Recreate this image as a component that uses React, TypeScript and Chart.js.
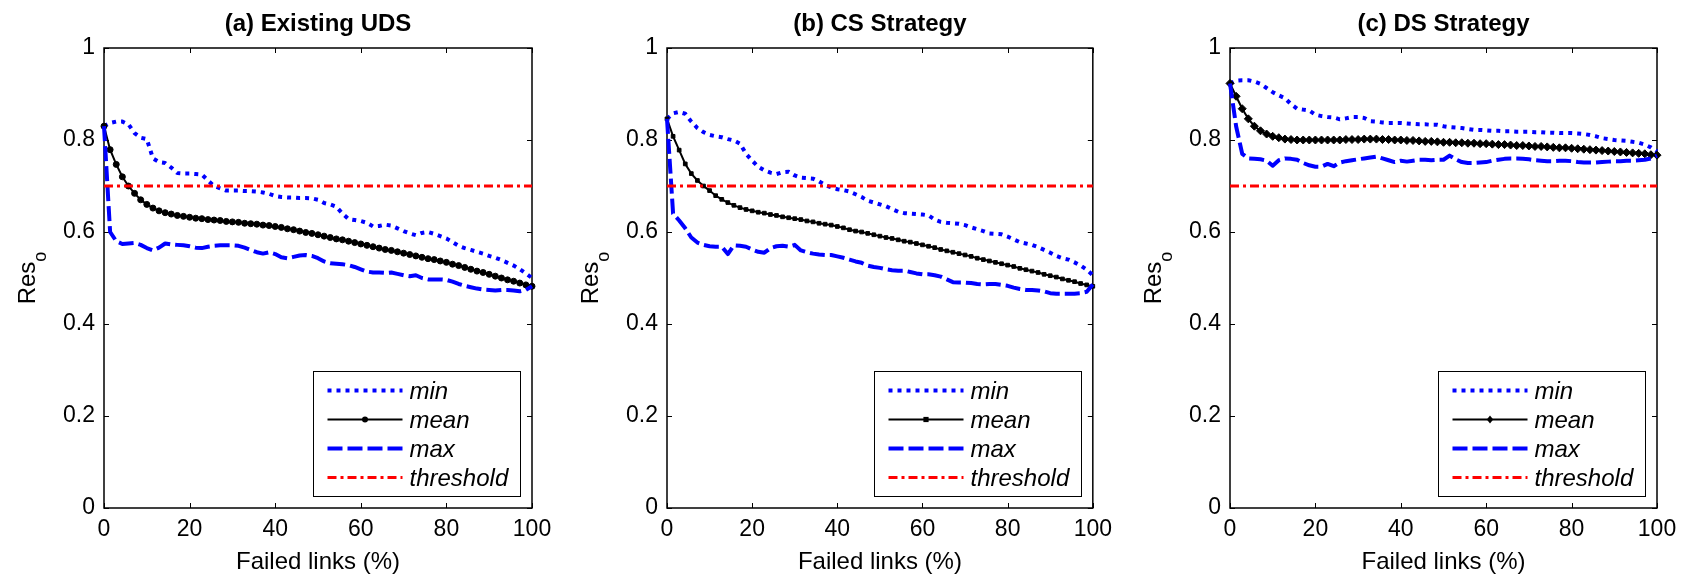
import React, { useEffect, useRef } from 'react';
import { Chart, registerables } from 'chart.js';

Chart.register(...registerables);

const FONT = '"Liberation Sans", Arial, Helvetica, sans-serif';

// x grid: failed links (%) – 71 steps
const FAILED_PCT = [0, 1.43, 2.86, 4.29, 5.71, 7.14, 8.57, 10, 11.43, 12.86, 14.29, 15.71, 17.14, 18.57, 20,
  21.43, 22.86, 24.29, 25.71, 27.14, 28.57, 30, 31.43, 32.86, 34.29, 35.71, 37.14, 38.57, 40,
  41.43, 42.86, 44.29, 45.71, 47.14, 48.57, 50, 51.43, 52.86, 54.29, 55.71, 57.14, 58.57, 60,
  61.43, 62.86, 64.29, 65.71, 67.14, 68.57, 70, 71.43, 72.86, 74.29, 75.71, 77.14, 78.57, 80,
  81.43, 82.86, 84.29, 85.71, 87.14, 88.57, 90, 91.43, 92.86, 94.29, 95.71, 97.14, 98.57, 100];

const X_TICKS = [0, 20, 40, 60, 80, 100];
const Y_TICKS = [0, 0.2, 0.4, 0.6, 0.8, 1];
const THRESHOLD = 0.7;

const TITLES = ['(a) Existing UDS', '(b) CS Strategy', '(c) DS Strategy'];
const LEGEND_LABELS = ['min', 'mean', 'max', 'threshold'];
const X_LABEL = 'Failed links (%)';
const Y_LABEL = 'Res';
const Y_LABEL_SUB = 'o';

// (a) Existing UDS
const UDS_MIN = [0.830, 0.837, 0.840, 0.840, 0.834, 0.815, 0.805, 0.802, 0.760, 0.752, 0.750, 0.740, 0.728, 0.727, 0.727,
  0.726, 0.725, 0.712, 0.700, 0.695, 0.690, 0.690, 0.690, 0.689, 0.689, 0.688, 0.686, 0.683, 0.678,
  0.676, 0.675, 0.675, 0.674, 0.674, 0.673, 0.670, 0.663, 0.660, 0.655, 0.640, 0.628, 0.626, 0.624,
  0.620, 0.612, 0.613, 0.616, 0.614, 0.608, 0.602, 0.597, 0.593, 0.598, 0.600, 0.596, 0.591, 0.586,
  0.578, 0.570, 0.565, 0.561, 0.557, 0.553, 0.548, 0.544, 0.539, 0.533, 0.527, 0.519, 0.510, 0.500];
const UDS_MEAN = [0.830, 0.779, 0.747, 0.720, 0.700, 0.684, 0.670, 0.660, 0.652, 0.646, 0.642, 0.639, 0.636, 0.634, 0.632,
  0.630, 0.629, 0.627, 0.626, 0.625, 0.623, 0.622, 0.621, 0.619, 0.618, 0.617, 0.615, 0.614, 0.612,
  0.610, 0.607, 0.605, 0.602, 0.599, 0.597, 0.594, 0.591, 0.588, 0.585, 0.583, 0.580, 0.577, 0.574,
  0.571, 0.568, 0.565, 0.562, 0.560, 0.557, 0.554, 0.551, 0.548, 0.545, 0.542, 0.540, 0.537, 0.534,
  0.530, 0.527, 0.523, 0.519, 0.515, 0.512, 0.508, 0.504, 0.500, 0.496, 0.493, 0.489, 0.485, 0.482];
const UDS_MAX = [0.830, 0.600, 0.580, 0.574, 0.575, 0.576, 0.572, 0.565, 0.560, 0.566, 0.575, 0.573, 0.572, 0.571, 0.569,
  0.566, 0.565, 0.568, 0.570, 0.571, 0.571, 0.571, 0.570, 0.566, 0.561, 0.556, 0.553, 0.556, 0.552,
  0.545, 0.543, 0.546, 0.549, 0.550, 0.548, 0.543, 0.536, 0.532, 0.531, 0.530, 0.528, 0.524, 0.519,
  0.514, 0.512, 0.512, 0.511, 0.512, 0.509, 0.506, 0.504, 0.506, 0.500, 0.497, 0.497, 0.497, 0.496,
  0.492, 0.487, 0.483, 0.480, 0.477, 0.475, 0.474, 0.473, 0.474, 0.474, 0.473, 0.471, 0.474, 0.482];

// (b) CS Strategy
const CS_MIN = [0.846, 0.858, 0.861, 0.857, 0.840, 0.826, 0.817, 0.811, 0.808, 0.806, 0.802, 0.799, 0.792, 0.770, 0.755,
  0.742, 0.734, 0.729, 0.726, 0.730, 0.731, 0.723, 0.718, 0.717, 0.716, 0.710, 0.702, 0.697, 0.693,
  0.691, 0.688, 0.682, 0.676, 0.668, 0.664, 0.660, 0.656, 0.650, 0.644, 0.641, 0.640, 0.639, 0.638,
  0.636, 0.627, 0.622, 0.620, 0.619, 0.618, 0.615, 0.610, 0.606, 0.602, 0.597, 0.596, 0.595, 0.590,
  0.584, 0.578, 0.575, 0.572, 0.567, 0.561, 0.555, 0.548, 0.543, 0.540, 0.534, 0.527, 0.518, 0.506];
const CS_MEAN = [0.846, 0.808, 0.778, 0.748, 0.727, 0.712, 0.700, 0.690, 0.679, 0.671, 0.664, 0.658, 0.653, 0.649, 0.646,
  0.643, 0.641, 0.638, 0.636, 0.633, 0.631, 0.629, 0.627, 0.624, 0.622, 0.619, 0.617, 0.615, 0.612,
  0.609, 0.605, 0.602, 0.600, 0.597, 0.594, 0.591, 0.588, 0.586, 0.583, 0.580, 0.578, 0.575, 0.572,
  0.569, 0.566, 0.562, 0.559, 0.556, 0.553, 0.550, 0.547, 0.543, 0.540, 0.537, 0.534, 0.531, 0.528,
  0.525, 0.521, 0.518, 0.515, 0.512, 0.508, 0.505, 0.502, 0.498, 0.495, 0.492, 0.488, 0.485, 0.482];
const CS_MAX = [0.846, 0.640, 0.625, 0.608, 0.588, 0.577, 0.572, 0.569, 0.568, 0.568, 0.552, 0.571, 0.570, 0.568, 0.562,
  0.557, 0.555, 0.565, 0.569, 0.570, 0.568, 0.572, 0.560, 0.556, 0.553, 0.551, 0.550, 0.550, 0.547,
  0.544, 0.540, 0.536, 0.533, 0.527, 0.524, 0.522, 0.519, 0.517, 0.516, 0.516, 0.513, 0.510, 0.508,
  0.508, 0.506, 0.503, 0.497, 0.491, 0.490, 0.490, 0.489, 0.487, 0.486, 0.487, 0.487, 0.485, 0.483,
  0.479, 0.476, 0.474, 0.474, 0.473, 0.471, 0.467, 0.466, 0.466, 0.466, 0.466, 0.467, 0.470, 0.486];

// (c) DS Strategy
const DS_MIN = [0.923, 0.929, 0.930, 0.930, 0.927, 0.922, 0.913, 0.904, 0.897, 0.891, 0.878, 0.868, 0.866, 0.864, 0.855,
  0.852, 0.850, 0.849, 0.845, 0.847, 0.850, 0.850, 0.848, 0.841, 0.840, 0.838, 0.837, 0.837, 0.837,
  0.836, 0.835, 0.834, 0.834, 0.833, 0.833, 0.830, 0.828, 0.827, 0.826, 0.824, 0.822, 0.822, 0.821,
  0.820, 0.820, 0.819, 0.819, 0.818, 0.818, 0.818, 0.817, 0.817, 0.816, 0.816, 0.815, 0.815, 0.815,
  0.814, 0.813, 0.811, 0.808, 0.804, 0.802, 0.800, 0.799, 0.798, 0.796, 0.794, 0.790, 0.784, 0.775];
const DS_MEAN = [0.923, 0.895, 0.868, 0.846, 0.830, 0.820, 0.813, 0.808, 0.805, 0.802, 0.801, 0.800, 0.800, 0.800, 0.800,
  0.800, 0.800, 0.800, 0.800, 0.801, 0.801, 0.801, 0.802, 0.802, 0.802, 0.801, 0.801, 0.800, 0.800,
  0.799, 0.799, 0.798, 0.797, 0.797, 0.796, 0.795, 0.795, 0.794, 0.794, 0.793, 0.793, 0.792, 0.792,
  0.791, 0.790, 0.790, 0.789, 0.788, 0.788, 0.787, 0.786, 0.786, 0.785, 0.784, 0.783, 0.783, 0.782,
  0.781, 0.780, 0.779, 0.778, 0.777, 0.776, 0.775, 0.774, 0.773, 0.772, 0.771, 0.770, 0.768, 0.767];
const DS_MAX = [0.923, 0.830, 0.770, 0.760, 0.759, 0.758, 0.755, 0.744, 0.756, 0.760, 0.759, 0.757, 0.750, 0.745, 0.742,
  0.742, 0.748, 0.743, 0.751, 0.754, 0.756, 0.758, 0.760, 0.762, 0.764, 0.760, 0.756, 0.752, 0.755,
  0.753, 0.755, 0.757, 0.757, 0.756, 0.757, 0.757, 0.766, 0.758, 0.752, 0.750, 0.750, 0.751, 0.752,
  0.755, 0.757, 0.759, 0.760, 0.760, 0.759, 0.758, 0.756, 0.755, 0.754, 0.754, 0.755, 0.755, 0.754,
  0.752, 0.751, 0.751, 0.751, 0.752, 0.753, 0.754, 0.754, 0.755, 0.755, 0.756, 0.757, 0.760, 0.766];

const SERIES = [
  { min: UDS_MIN, mean: UDS_MEAN, max: UDS_MAX },
  { min: CS_MIN, mean: CS_MEAN, max: CS_MAX },
  { min: DS_MIN, mean: DS_MEAN, max: DS_MAX },
];

// layout (pixels)
const H = 577;
const AREA_TOP = 48;
const AREA_BOTTOM = 508;
const PANELS = [
  { canvasLeft: 0, width: 560, areaLeft: 104, areaRight: 532, marker: 'circle', markerR: 3 },
  { canvasLeft: 560, width: 560, areaLeft: 107, areaRight: 535, marker: 'rect', markerR: 2.6 },
  { canvasLeft: 1120, width: 573, areaLeft: 110, areaRight: 537, marker: 'rectRot', markerR: 4 },
];

const BLUE = '#0000FF';
const RED = '#FF0000';
const DOT_DASH = [4, 5];
const LONG_DASH = [15, 5];
const DASH_DOT = [9, 4, 3, 4];

function xy(vals: number[]) {
  return vals.map((v, i) => ({ x: FAILED_PCT[i], y: v }));
}

function drawMarker(ctx: CanvasRenderingContext2D, style: string, x: number, y: number, r: number) {
  ctx.fillStyle = '#000';
  ctx.beginPath();
  if (style === 'circle') {
    ctx.arc(x, y, r, 0, Math.PI * 2);
  } else if (style === 'rect') {
    ctx.rect(x - r, y - r, 2 * r, 2 * r);
  } else {
    ctx.moveTo(x, y - r);
    ctx.lineTo(x + r * 0.8, y);
    ctx.lineTo(x, y + r);
    ctx.lineTo(x - r * 0.8, y);
    ctx.closePath();
  }
  ctx.fill();
}

function makePlugin(idx: number) {
  const p = PANELS[idx];
  return {
    id: 'panelDecor' + idx,
    beforeDatasetsDraw(chart: any) {
      const { ctx, chartArea: a, scales } = chart;
      ctx.save();
      ctx.strokeStyle = '#000';
      ctx.lineWidth = 1.5;
      ctx.setLineDash([]);
      ctx.strokeRect(a.left, a.top, a.right - a.left, a.bottom - a.top);
      ctx.lineWidth = 1;
      const tl = 5;
      X_TICKS.forEach((v) => {
        const px = Math.round(scales.x.getPixelForValue(v)) + 0.5;
        ctx.beginPath();
        ctx.moveTo(px, a.bottom); ctx.lineTo(px, a.bottom - tl);
        ctx.moveTo(px, a.top); ctx.lineTo(px, a.top + tl);
        ctx.stroke();
      });
      Y_TICKS.forEach((v) => {
        const py = Math.round(scales.y.getPixelForValue(v)) + 0.5;
        ctx.beginPath();
        ctx.moveTo(a.left, py); ctx.lineTo(a.left + tl, py);
        ctx.moveTo(a.right, py); ctx.lineTo(a.right - tl, py);
        ctx.stroke();
      });
      ctx.restore();
    },
    afterDraw(chart: any) {
      const { ctx, chartArea: a } = chart;
      const cx = (a.left + a.right) / 2;
      ctx.save();
      ctx.fillStyle = '#000';
      ctx.textAlign = 'center';
      ctx.textBaseline = 'alphabetic';
      // title
      ctx.font = `bold 24px ${FONT}`;
      ctx.fillText(TITLES[idx], cx, 31);
      // x label
      ctx.font = `24px ${FONT}`;
      ctx.fillText(X_LABEL, cx, 569);
      // y label with subscript
      ctx.save();
      ctx.font = `24px ${FONT}`;
      const wMain = ctx.measureText(Y_LABEL).width;
      ctx.font = `18px ${FONT}`;
      const wSub = ctx.measureText(Y_LABEL_SUB).width;
      const total = wMain + wSub;
      const cy = (a.top + a.bottom) / 2;
      ctx.translate(a.left - 69, cy);
      ctx.rotate(-Math.PI / 2);
      ctx.textAlign = 'left';
      ctx.font = `24px ${FONT}`;
      ctx.fillText(Y_LABEL, -total / 2, 0);
      ctx.font = `18px ${FONT}`;
      ctx.fillText(Y_LABEL_SUB, -total / 2 + wMain, 11);
      ctx.restore();

      // legend box
      const w = 207, h = 125;
      const x0 = Math.round(a.right - 12 - w) + 0.5;
      const y0 = Math.round(a.bottom - 12 - h) + 0.5;
      ctx.fillStyle = '#fff';
      ctx.fillRect(x0, y0, w, h);
      ctx.strokeStyle = '#000';
      ctx.lineWidth = 1;
      ctx.setLineDash([]);
      ctx.strokeRect(x0, y0, w, h);
      const rows = [19, 48, 77, 106];
      const sx0 = x0 + 14, sx1 = x0 + 89;
      rows.forEach((dy, k) => {
        const ly = y0 + dy;
        ctx.beginPath();
        ctx.lineCap = 'butt';
        if (k === 0) { ctx.strokeStyle = BLUE; ctx.lineWidth = 4; ctx.setLineDash(DOT_DASH); }
        else if (k === 1) { ctx.strokeStyle = '#000'; ctx.lineWidth = 2; ctx.setLineDash([]); }
        else if (k === 2) { ctx.strokeStyle = BLUE; ctx.lineWidth = 4; ctx.setLineDash(LONG_DASH); }
        else { ctx.strokeStyle = RED; ctx.lineWidth = 3; ctx.setLineDash(DASH_DOT); }
        ctx.moveTo(sx0, ly); ctx.lineTo(sx1, ly);
        ctx.stroke();
        ctx.setLineDash([]);
        if (k === 1) drawMarker(ctx, p.marker, (sx0 + sx1) / 2, ly, p.markerR);
        ctx.fillStyle = '#000';
        ctx.font = `italic 24px ${FONT}`;
        ctx.textAlign = 'left';
        ctx.fillText(LEGEND_LABELS[k], x0 + 96, ly + 8);
      });
      ctx.restore();
    },
  };
}

function Panel({ idx }: { idx: number }) {
  const ref = useRef<HTMLCanvasElement | null>(null);
  const p = PANELS[idx];
  useEffect(() => {
    if (!ref.current) return;
    const s = SERIES[idx];
    const chart = new Chart(ref.current, {
      type: 'line',
      data: {
        datasets: [
          {
            label: LEGEND_LABELS[3], data: [{ x: 0, y: THRESHOLD }, { x: 100, y: THRESHOLD }],
            borderColor: RED, borderWidth: 3, borderDash: DASH_DOT, pointRadius: 0, order: 0, clip: false,
          },
          {
            label: LEGEND_LABELS[2], data: xy(s.max), borderColor: BLUE, borderWidth: 4, borderDash: LONG_DASH,
            borderJoinStyle: 'round', pointRadius: 0, order: 1, clip: false,
          },
          {
            label: LEGEND_LABELS[1], data: xy(s.mean), borderColor: '#000', borderWidth: 2,
            pointStyle: p.marker as any, pointRadius: p.markerR, pointBackgroundColor: '#000',
            pointBorderColor: '#000', pointBorderWidth: 1, order: 2, clip: false,
          },
          {
            label: LEGEND_LABELS[0], data: xy(s.min), borderColor: BLUE, borderWidth: 4, borderDash: DOT_DASH,
            borderJoinStyle: 'round', pointRadius: 0, order: 3, clip: false,
          },
        ] as any,
      },
      options: {
        responsive: false,
        animation: false,
        devicePixelRatio: 1,
        events: [],
        layout: { padding: { left: 0, top: AREA_TOP, right: p.width - p.areaRight, bottom: 0 } },
        plugins: { legend: { display: false }, tooltip: { enabled: false }, title: { display: false } },
        elements: { line: { tension: 0 } },
        scales: {
          x: {
            type: 'linear', min: 0, max: 100,
            grid: { display: false, drawTicks: false }, border: { display: false },
            ticks: { stepSize: 20, color: '#000', font: { family: FONT, size: 23 }, padding: 8, maxRotation: 0, autoSkip: false },
            afterFit: (sc: any) => { sc.height = H - AREA_BOTTOM; },
          },
          y: {
            type: 'linear', min: 0, max: 1,
            grid: { display: false, drawTicks: false }, border: { display: false },
            ticks: {
              stepSize: 0.2, color: '#000', font: { family: FONT, size: 23 }, padding: 9,
              callback: (v: any) => String(Math.round(Number(v) * 10) / 10),
            },
            afterFit: (sc: any) => { sc.width = p.areaLeft; },
          },
        },
      } as any,
      plugins: [makePlugin(idx)],
    });
    return () => chart.destroy();
  }, [idx]);
  return (
    <canvas
      ref={ref}
      width={p.width}
      height={H}
      style={{ position: 'absolute', left: p.canvasLeft, top: 0, width: p.width, height: H }}
    />
  );
}

export default function App() {
  return (
    <div style={{ position: 'absolute', left: 0, top: 0, width: 1693, height: H, background: '#fff', overflow: 'hidden' }}>
      {PANELS.map((_, i) => <Panel key={i} idx={i} />)}
    </div>
  );
}
